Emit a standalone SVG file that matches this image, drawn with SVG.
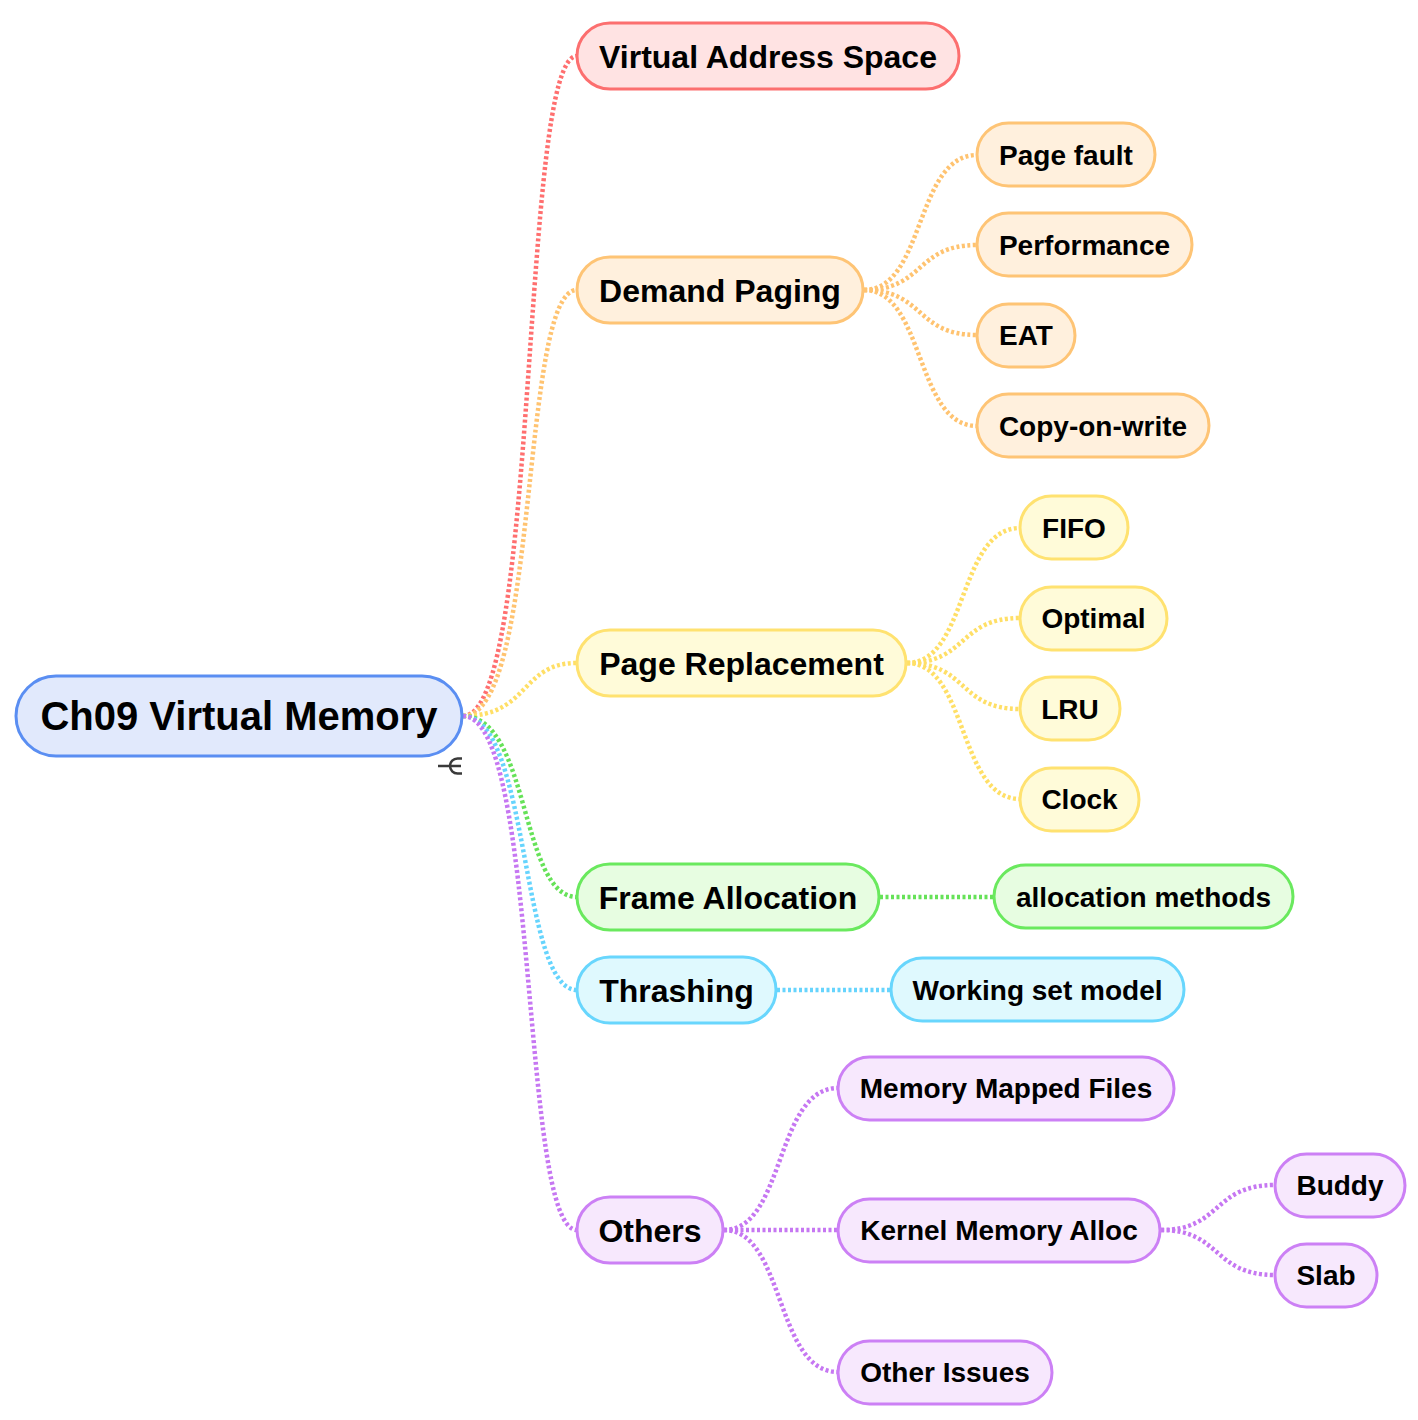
<svg xmlns="http://www.w3.org/2000/svg" width="1418" height="1420" viewBox="0 0 1418 1420">
<style>
text{font-family:"Liberation Sans",Arial,sans-serif;font-weight:bold;fill:#000;text-anchor:middle}
.t0{font-size:40px}.t1{font-size:32px}.t2{font-size:28px}
rect{stroke-width:3}
.c path{fill:none;stroke-width:4.5;stroke-dasharray:3 2.5}
.red rect{fill:#ffe3e3;stroke:#fc6f6f}.red path{stroke:#ff6f6f}
.org rect{fill:#fff0dd;stroke:#fec475}.org path{stroke:#ffc370}
.yel rect{fill:#fffbd9;stroke:#ffe270}.yel path{stroke:#ffdf66}
.grn rect{fill:#e7fde1;stroke:#6ae95e}.grn path{stroke:#66e258}
.cyn rect{fill:#dff9fe;stroke:#68d6fd}.cyn path{stroke:#66d4fd}
.pur rect{fill:#f7e8fd;stroke:#cc80f5}.pur path{stroke:#c677f2}
</style>
<rect width="1418" height="1420" fill="#fff"/>
<g id="connectors" class="c">
<g class="red"><path d="M463,716 C540,716 520,56 577,56"/></g>
<g class="org"><path d="M463,716 C540,716 520,290 577,290"/>
<path d="M864,290 C925,290 915,155 977,155"/>
<path d="M864,290 C925,290 915,245 977,245"/>
<path d="M864,290 C925,290 915,335 977,335"/>
<path d="M864,290 C925,290 915,426 977,426"/></g>
<g class="yel"><path d="M463,716 C530,716 520,663 577,663"/>
<path d="M907,663 C968,663 958,528 1020,528"/>
<path d="M907,663 C968,663 958,618 1020,618"/>
<path d="M907,663 C968,663 958,709 1020,709"/>
<path d="M907,663 C968,663 958,799 1020,799"/></g>
<g class="grn"><path d="M463,716 C530,716 520,897 577,897"/>
<path d="M880,897 L994,897"/></g>
<g class="cyn"><path d="M463,716 C530,716 520,990 577,990"/>
<path d="M777,990 L891,990"/></g>
<g class="pur"><path d="M463,716 C540,716 520,1230 577,1230"/>
<path d="M724,1230 C785,1230 775,1088 838,1088"/>
<path d="M724,1230 L838,1230"/>
<path d="M724,1230 C785,1230 775,1372 838,1372"/>
<path d="M1161,1230 C1222,1230 1212,1185 1275,1185"/>
<path d="M1161,1230 C1222,1230 1212,1275 1275,1275"/></g>
</g>
<g id="root"><rect x="16" y="676" width="446" height="80" rx="40" fill="#e1e9fc" stroke="#5a8ef2"/><text class="t0" x="239" y="730">Ch09 Virtual Memory</text>
<path d="M438,766 H461 M462,758.5 H457.5 A7.5,7.5 0 0 0 457.5,773.5 H462" fill="none" stroke="#3a3a3a" stroke-width="2.5"/></g>
<g id="n-vas" class="red"><rect x="577" y="23" width="382" height="66" rx="33"/><text class="t1" x="768" y="67.5">Virtual Address Space</text></g>
<g id="n-dp" class="org"><rect x="577" y="257" width="286" height="66" rx="33"/><text class="t1" x="720" y="301.5">Demand Paging</text></g>
<g id="n-pf" class="org"><rect x="977" y="123" width="178" height="63" rx="31.5"/><text class="t2" x="1066" y="165">Page fault</text></g>
<g id="n-perf" class="org"><rect x="977" y="213" width="215" height="63" rx="31.5"/><text class="t2" x="1084.5" y="255">Performance</text></g>
<g id="n-eat" class="org"><rect x="977" y="304" width="98" height="63" rx="31.5"/><text class="t2" x="1026" y="345">EAT</text></g>
<g id="n-cow" class="org"><rect x="977" y="394" width="232" height="63" rx="31.5"/><text class="t2" x="1093" y="436">Copy-on-write</text></g>
<g id="n-pr" class="yel"><rect x="577" y="630" width="329" height="66" rx="33"/><text class="t1" x="741.5" y="674.5">Page Replacement</text></g>
<g id="n-fifo" class="yel"><rect x="1020" y="496" width="108" height="63" rx="31.5"/><text class="t2" x="1074" y="538">FIFO</text></g>
<g id="n-opt" class="yel"><rect x="1020" y="587" width="147" height="63" rx="31.5"/><text class="t2" x="1093.5" y="628">Optimal</text></g>
<g id="n-lru" class="yel"><rect x="1020" y="677" width="100" height="63" rx="31.5"/><text class="t2" x="1070" y="719">LRU</text></g>
<g id="n-clock" class="yel"><rect x="1020" y="768" width="119" height="63" rx="31.5"/><text class="t2" x="1079.5" y="809">Clock</text></g>
<g id="n-fa" class="grn"><rect x="577" y="864" width="302" height="66" rx="33"/><text class="t1" x="728" y="908.5">Frame Allocation</text></g>
<g id="n-am" class="grn"><rect x="994" y="865" width="299" height="63" rx="31.5"/><text class="t2" x="1143.5" y="907">allocation methods</text></g>
<g id="n-th" class="cyn"><rect x="577" y="957" width="199" height="66" rx="33"/><text class="t1" x="676.5" y="1001.5">Thrashing</text></g>
<g id="n-wsm" class="cyn"><rect x="891" y="958" width="293" height="63" rx="31.5"/><text class="t2" x="1037.5" y="1000">Working set model</text></g>
<g id="n-oth" class="pur"><rect x="577" y="1197" width="146" height="66" rx="33"/><text class="t1" x="650" y="1241.5">Others</text></g>
<g id="n-mmf" class="pur"><rect x="838" y="1057" width="336" height="63" rx="31.5"/><text class="t2" x="1006" y="1098">Memory Mapped Files</text></g>
<g id="n-kma" class="pur"><rect x="838" y="1199" width="322" height="63" rx="31.5"/><text class="t2" x="999" y="1240">Kernel Memory Alloc</text></g>
<g id="n-oi" class="pur"><rect x="838" y="1341" width="214" height="63" rx="31.5"/><text class="t2" x="945" y="1382">Other Issues</text></g>
<g id="n-buddy" class="pur"><rect x="1275" y="1154" width="130" height="63" rx="31.5"/><text class="t2" x="1340" y="1195">Buddy</text></g>
<g id="n-slab" class="pur"><rect x="1275" y="1244" width="102" height="63" rx="31.5"/><text class="t2" x="1326" y="1285">Slab</text></g>
</svg>
